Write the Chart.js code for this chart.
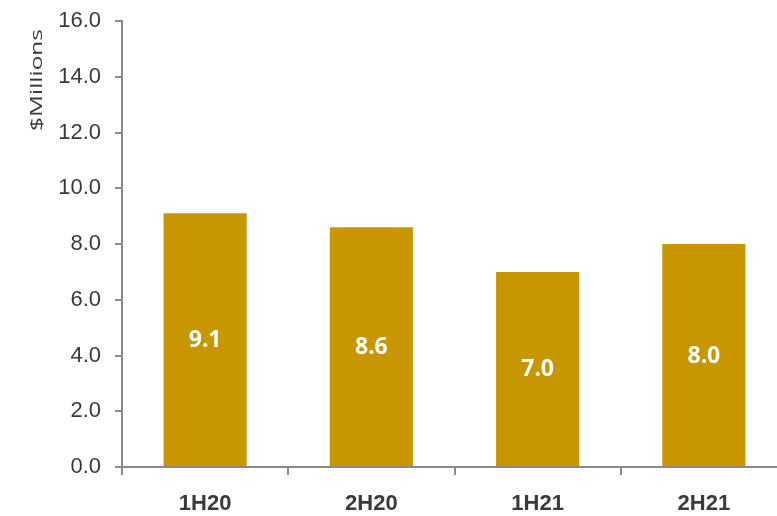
<!DOCTYPE html>
<html>
<head>
<meta charset="utf-8">
<script src="https://cdn.jsdelivr.net/npm/chart.js@4.4.1/dist/chart.umd.min.js"></script>
<style>
html,body{margin:0;padding:0;background:#fff;overflow:hidden;}
#wrap{position:absolute;left:0;top:0;width:790px;height:516px;}
</style>
</head>
<body>
<div id="wrap"><canvas id="c" width="790" height="516"></canvas></div>
<script>
const categories = ['1H20', '2H20', '1H21', '2H21'];
const values = [9.1, 8.6, 7.0, 8.0];
const yTicks = [0, 2, 4, 6, 8, 10, 12, 14, 16];
const yTitle = '$Millions';

const AXIS = '#8a8a8a';
const TEXT = '#3a3a3a';
const GOLD = '#C89600';

const labelPlugin = {
  id: 'barLabels',
  afterDatasetsDraw(chart) {
    const ctx = chart.ctx;
    const meta = chart.getDatasetMeta(0);
    ctx.save();
    ctx.fillStyle = '#ffffff';
    ctx.font = 'bold 23px "Noto Sans", "Liberation Sans", Arial, sans-serif';
    ctx.textAlign = 'center';
    ctx.textBaseline = 'middle';
    meta.data.forEach((el, i) => {
      const v = chart.data.datasets[0].data[i];
      ctx.fillText(v.toFixed(1), el.x, (el.y + el.base) / 2 + 1);
    });
    ctx.restore();
  }
};

// y-axis title, drawn as text, stretched along its length like the reference
const yTitlePlugin = {
  id: 'yTitle',
  afterDraw(chart) {
    const ctx = chart.ctx;
    const area = chart.chartArea;
    ctx.save();
    ctx.font = '17px "Open Sans", "Noto Sans", sans-serif';
    ctx.fillStyle = TEXT;
    ctx.textAlign = 'right';
    ctx.textBaseline = 'alphabetic';
    const w = ctx.measureText(yTitle).width;
    const targetLen = 102;
    ctx.translate(42, area.top + 8);
    ctx.rotate(-Math.PI / 2);
    ctx.scale(targetLen / w, 1);
    ctx.fillText(yTitle, 0, 0);
    ctx.restore();
  }
};

new Chart(document.getElementById('c'), {
  type: 'bar',
  data: {
    labels: categories,
    datasets: [{
      data: values,
      backgroundColor: GOLD,
      borderWidth: 0,
      categoryPercentage: 1.0,
      barPercentage: 0.5
    }]
  },
  options: {
    responsive: false,
    animation: false,
    layout: { padding: { top: 21, right: 3, left: 0, bottom: 0 } },
    plugins: { legend: { display: false }, tooltip: { enabled: false } },
    scales: {
      x: {
        offset: true,
        grid: { display: true, drawOnChartArea: false, drawTicks: true, tickLength: 8, color: AXIS, lineWidth: 2, offset: true },
        border: { display: true, color: AXIS, width: 2 },
        ticks: { color: TEXT, font: { family: '"Liberation Sans", Arial, sans-serif', size: 22, weight: 'bold' }, padding: 16 },
        afterFit(s) { s.height = 49; s.paddingLeft = 0; s.paddingRight = 0; }
      },
      y: {
        min: 0, max: 16,
        afterBuildTicks(s) { s.ticks = yTicks.map(v => ({ value: v })); },
        grid: { display: true, drawOnChartArea: false, drawTicks: true, tickLength: 7, color: AXIS, lineWidth: 2 },
        border: { display: true, color: AXIS, width: 2 },
        ticks: { color: TEXT, font: { family: '"Liberation Sans", Arial, sans-serif', size: 22 }, padding: 14, callback: v => Number(v).toFixed(1) },
        title: { display: false, text: yTitle },
        afterFit(s) { s.width = 122; s.paddingTop = 0; s.paddingBottom = 0; }
      }
    }
  },
  plugins: [labelPlugin, yTitlePlugin]
});
</script>
</body>
</html>
